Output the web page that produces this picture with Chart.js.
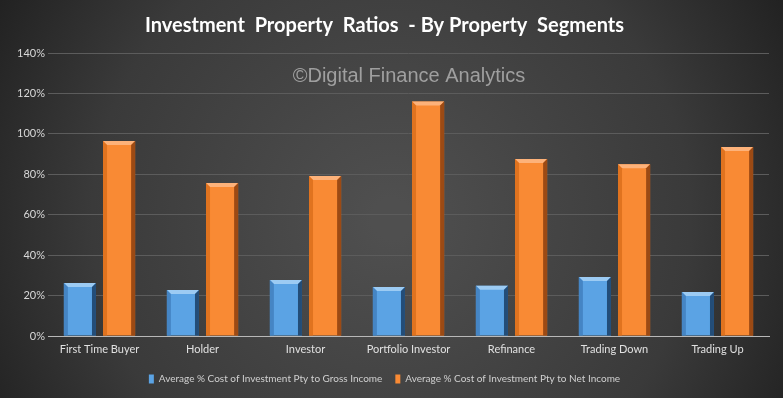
<!DOCTYPE html>
<html>
<head>
<meta charset="utf-8">
<script src="https://cdn.jsdelivr.net/npm/chart.js@4"></script>
<style>
  html, body { margin: 0; padding: 0; background: #2b2b2b; }
  #wrap { width: 783px; height: 398px; }
</style>
</head>
<body>
<div id="wrap"><canvas id="canvasid"></canvas></div>
<script>
const segments = ["First Time Buyer", "Holder", "Investor", "Portfolio Investor", "Refinance", "Trading Down", "Trading Up"];
const grossIncome = [0.262, 0.228, 0.277, 0.243, 0.248, 0.292, 0.218];
const netIncome = [0.965, 0.757, 0.792, 1.16, 0.876, 0.85, 0.935];
const seriesNames = ["Average % Cost of Investment Pty to Gross Income", "Average % Cost of Investment Pty to Net Income"];

const canvas = document.getElementById("canvasid")

// dark radial background like the excel chart style
const background = {
    id: "background",
    beforeDraw(chart) {
        const { ctx, width, height } = chart
        const g = ctx.createRadialGradient(width * 0.5, height * 0.55, 20, width * 0.5, height * 0.55, width * 0.62)
        g.addColorStop(0, "#4f4f4f")
        g.addColorStop(0.6, "#3a3a3a")
        g.addColorStop(1, "#1c1c1c")
        ctx.save()
        ctx.fillStyle = g
        ctx.fillRect(0, 0, width, height)
        ctx.restore()
    }
}

// bevel edges on each bar
const bevel = {
    id: "bevel",
    afterDatasetsDraw(chart) {
        const ctx = chart.ctx
        const shades = [
            { top: "#9ccbf3", left: "#4585c4", right: "#234d78" },
            { top: "#fdb27a", left: "#e0731f", right: "#9c4a14" }
        ]
        chart.data.datasets.forEach((ds, i) => {
            const meta = chart.getDatasetMeta(i)
            meta.data.forEach(bar => {
                const l = bar.x - bar.width / 2, r = bar.x + bar.width / 2
                const t = bar.y, b = bar.base, s = 4
                const c = shades[i]
                ctx.save()
                ctx.fillStyle = c.top
                ctx.beginPath()
                ctx.moveTo(l, t); ctx.lineTo(r, t); ctx.lineTo(r - s, t + s); ctx.lineTo(l + s, t + s)
                ctx.closePath(); ctx.fill()
                ctx.fillStyle = c.left
                ctx.beginPath()
                ctx.moveTo(l, t); ctx.lineTo(l + s, t + s); ctx.lineTo(l + s, b); ctx.lineTo(l, b)
                ctx.closePath(); ctx.fill()
                ctx.fillStyle = c.right
                ctx.beginPath()
                ctx.moveTo(r, t); ctx.lineTo(r - s, t + s); ctx.lineTo(r - s, b); ctx.lineTo(r, b)
                ctx.closePath(); ctx.fill()
                ctx.restore()
            })
        })
    }
}

const watermark = {
    id: "watermark",
    afterDraw(chart) {
        const ctx = chart.ctx
        ctx.save()
        ctx.font = "20px 'Liberation Sans', Arial, sans-serif"
        ctx.fillStyle = "rgba(190,190,190,0.75)"
        ctx.textAlign = "center"
        ctx.textBaseline = "middle"
        ctx.fillText("\u00A9Digital Finance Analytics", 409, 76)
        ctx.restore()
    }
}

new Chart(canvas, {
    type: 'bar',
    data: {
        labels: segments,
        datasets: [{
            label: seriesNames[0],
            data: grossIncome,
            backgroundColor: '#5ba3e4',
            borderWidth: 0
        }, {
            label: seriesNames[1],
            data: netIncome,
            backgroundColor: '#f98a34',
            borderWidth: 0
        }]
    },
    options: {
        responsive: true,
        maintainAspectRatio: false,
        animation: false,
        categoryPercentage: 0.76,
        barPercentage: 0.82,
        layout: {
            padding: { left: 0, right: 14, top: 0, bottom: 4 }
        },
        plugins: {
            title: {
                display: true,
                text: "Investment  Property  Ratios  - By Property  Segments",
                color: "#ffffff",
                font: { family: "Lato", size: 20, weight: "bold" },
                padding: { top: 14, bottom: 15 }
            },
            legend: {
                display: true,
                position: "bottom",
                labels: {
                    color: "#d0d0d0",
                    boxWidth: 5,
                    boxHeight: 9,
                    padding: 13,
                    font: { family: "Lato", size: 10 }
                }
            },
            tooltip: { enabled: false }
        },
        scales: {
            x: {
                grid: { display: false, drawTicks: false },
                border: { color: "#b8b8b8", width: 1 },
                ticks: { color: "#e0e0e0", font: { family: "Lato", size: 11 }, padding: 7 },
                afterFit(scale) { scale.height = 25 }
            },
            y: {
                min: 0,
                max: 1.4,
                ticks: {
                    stepSize: 0.2,
                    color: "#d8d8d8",
                    font: { family: "Lato", size: 11 },
                    callback: v => Math.round(v * 100) + "%"
                },
                grid: { color: "#5c5c5c", drawTicks: false },
                border: { display: false },
                afterFit(scale) { scale.width = 48 }
            }
        }
    },
    plugins: [background, bevel, watermark]
})
</script>
</body>
</html>
